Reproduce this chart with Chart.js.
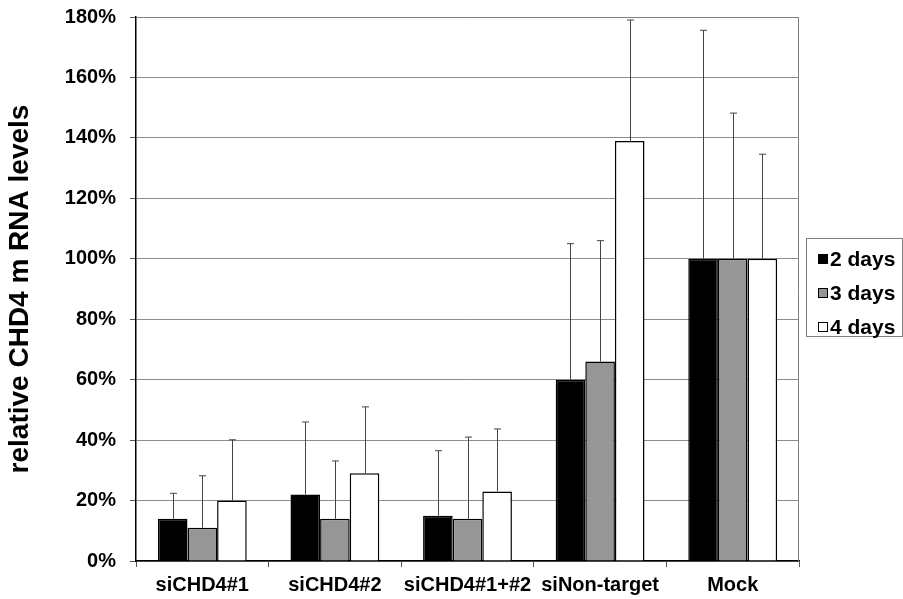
<!DOCTYPE html>
<html>
<head>
<meta charset="utf-8">
<script src="https://cdn.jsdelivr.net/npm/chart.js@4/dist/chart.umd.min.js"></script>
<style>
  html, body { margin: 0; padding: 0; background: #fff; }
  #wrap { width: 903px; height: 599px; }
</style>
</head>
<body>
<div id="wrap"><canvas id="c" width="903" height="599"></canvas></div>
<script>
const categories = ['siCHD4#1', 'siCHD4#2', 'siCHD4#1+#2', 'siNon-target', 'Mock'];
const seriesNames = ['2 days', '3 days', '4 days'];
const days2 = [14, 22, 15, 60, 100];
const days3 = [11, 14, 14, 66, 100];
const days4 = [20, 29, 23, 139, 100];
const err2 = [8.4, 24, 21.5, 45, 75.6];
const err3 = [17.2, 19.1, 27, 40, 48.2];
const err4 = [20.1, 22, 20.7, 40, 34.6];
const yTicks = [0, 20, 40, 60, 80, 100, 120, 140, 160, 180];

const FONT = "'Liberation Sans', Arial, Helvetica, sans-serif";
const fills = ['#000000', '#969696', '#ffffff'];
const errs = [err2, err3, err4];

const errorBars = {
  id: 'errorBars',
  afterDatasetsDraw(chart) {
    const ctx = chart.ctx;
    const y = chart.scales.y;
    ctx.save();
    ctx.strokeStyle = '#444';
    ctx.lineWidth = 1;
    chart.data.datasets.forEach((ds, di) => {
      const meta = chart.getDatasetMeta(di);
      meta.data.forEach((bar, i) => {
        const top = y.getPixelForValue(ds.data[i] + errs[di][i]);
        const x = Math.round(bar.x) + 0.5;
        ctx.beginPath();
        ctx.moveTo(x, bar.y);
        ctx.lineTo(x, top);
        ctx.moveTo(x - 3.5, top);
        ctx.lineTo(x + 3.5, top);
        ctx.stroke();
      });
    });
    ctx.restore();
  }
};

const frame = {
  id: 'frame',
  beforeDatasetsDraw(chart) {
    const { ctx, chartArea: a } = chart;
    ctx.save();
    ctx.strokeStyle = '#808080';
    ctx.lineWidth = 1;
    ctx.beginPath();
    ctx.moveTo(a.left, a.top + 0.5);
    ctx.lineTo(a.right - 0.5, a.top + 0.5);
    ctx.lineTo(a.right - 0.5, a.bottom);
    ctx.stroke();
    ctx.restore();
  },
  afterDraw(chart) {
    const ctx = chart.ctx;
    ctx.save();
    ctx.strokeStyle = '#808080';
    ctx.lineWidth = 1;
    ctx.strokeRect(806.5, 238.5, 96, 98);
    const rows = [259, 293, 327];
    chart.data.datasets.forEach((ds, i) => {
      ctx.fillStyle = ds.backgroundColor;
      ctx.fillRect(818, rows[i] - 5, 10, 10);
      ctx.strokeStyle = '#000';
      ctx.strokeRect(818.5, rows[i] - 4.5, 9, 9);
      ctx.fillStyle = '#000';
      ctx.font = 'bold 21px ' + FONT;
      ctx.textBaseline = 'middle';
      ctx.fillText(ds.label, 830, rows[i] + 1);
    });
    ctx.restore();
  }
};

new Chart(document.getElementById('c'), {
  type: 'bar',
  data: {
    labels: categories,
    datasets: [days2, days3, days4].map((d, i) => ({
      label: seriesNames[i],
      data: d,
      backgroundColor: fills[i],
      borderColor: '#000',
      borderWidth: 1.5,
      categoryPercentage: 0.67,
      barPercentage: 1.0
    }))
  },
  options: {
    responsive: false,
    devicePixelRatio: 1,
    animation: false,
    layout: { padding: { top: 17, right: 104, left: 0, bottom: 0 } },
    plugins: { legend: { display: false }, tooltip: { enabled: false } },
    scales: {
      x: {
        afterFit(s) { s.height = 38; s.paddingLeft = 0; s.paddingRight = 0; },
        grid: { drawOnChartArea: false, offset: true, tickLength: 6, color: '#555' },
        border: { color: '#000', width: 1.5 },
        ticks: { color: '#000', font: { family: FONT, size: 20, weight: 'bold' }, padding: 6, maxRotation: 0, autoSkip: false }
      },
      y: {
        min: 0, max: 180,
        afterFit(s) { s.width = 136; s.paddingTop = 0; s.paddingBottom = 0; },
        afterBuildTicks(s) { s.ticks = yTicks.map(v => ({ value: v })); },
        grid: { color: '#8c8c8c', tickLength: 6, tickColor: '#555' },
        border: { color: '#000', width: 1.5 },
        ticks: { color: '#000', font: { family: FONT, size: 20, weight: 'bold' }, padding: 14, callback: v => v + '%' },
        title: { display: true, text: 'relative CHD4 m RNA levels', color: '#000', font: { family: FONT, size: 28, weight: 'bold' }, padding: { top: 3, bottom: 0 } }
      }
    }
  },
  plugins: [errorBars, frame]
});
</script>
</body>
</html>
